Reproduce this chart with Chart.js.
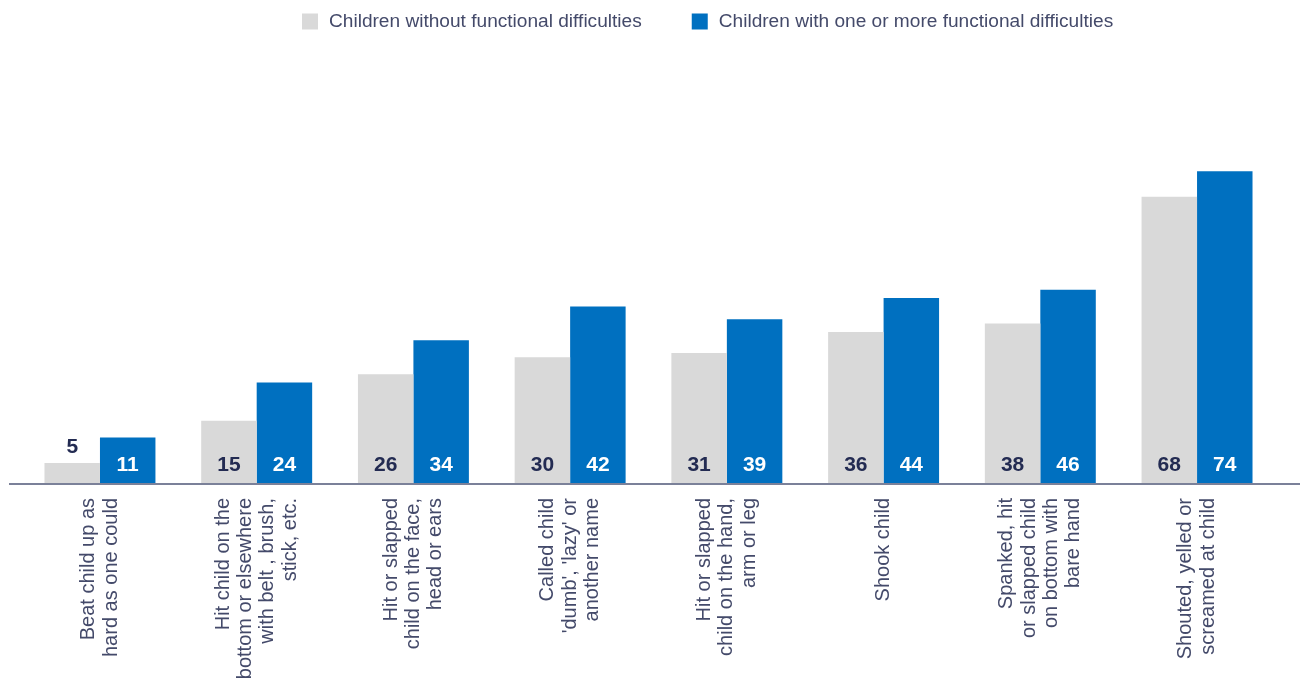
<!DOCTYPE html>
<html>
<head>
<meta charset="utf-8">
<script src="https://cdn.jsdelivr.net/npm/chart.js@4/dist/chart.umd.min.js"></script>
<style>
  html, body { margin: 0; padding: 0; background: #ffffff; }
  #wrap { width: 1300px; height: 691px; position: relative; }
</style>
</head>
<body>
<div id="wrap"><canvas id="c" width="1300" height="691"></canvas></div>
<script>
// ---- Data ----
const categories = [
  ["Beat child up as", "hard as one could"],
  ["Hit child on the", "bottom or elsewhere", "with belt , brush,", "stick, etc."],
  ["Hit or slapped", "child on the face,", "head or ears"],
  ["Called child", "'dumb', 'lazy' or", "another name"],
  ["Hit or slapped", "child on the hand,", "arm or leg"],
  ["Shook child"],
  ["Spanked, hit", "or slapped child", "on bottom with", "bare hand"],
  ["Shouted, yelled or", "screamed at child"]
];
const seriesNames = [
  "Children without functional difficulties",
  "Children with one or more functional difficulties"
];
const withoutDifficulties = [5, 15, 26, 30, 31, 36, 38, 68];
const withDifficulties = [11, 24, 34, 42, 39, 44, 46, 74];

// ---- Styles ----
const FONT = "'Liberation Sans', Arial, Helvetica, sans-serif";
const GREY = "#d9d9d9";
const BLUE = "#0070c0";
const TEXT = "#444a6a";
const NAVY = "#232b52";

const customDraw = {
  id: 'customDraw',
  afterDatasetsDraw(chart) {
    const ctx = chart.ctx;
    const area = chart.chartArea;
    const xs = chart.scales.x;

    // baseline axis line
    ctx.save();
    ctx.strokeStyle = "#7b8199";
    ctx.lineWidth = 2;
    ctx.beginPath();
    ctx.moveTo(9, area.bottom);
    ctx.lineTo(chart.width, area.bottom);
    ctx.stroke();
    ctx.restore();

    // value labels
    chart.data.datasets.forEach((ds, di) => {
      const meta = chart.getDatasetMeta(di);
      meta.data.forEach((bar, i) => {
        const v = ds.data[i];
        const h = bar.base - bar.y;
        let y, color;
        if (h < 30) { y = bar.y - 16; color = NAVY; }
        else { y = bar.base - 19; color = di === 0 ? NAVY : "#ffffff"; }
        ctx.save();
        ctx.font = "bold 21px " + FONT;
        ctx.fillStyle = color;
        ctx.textAlign = "center";
        ctx.textBaseline = "middle";
        ctx.fillText(String(v), bar.x, y);
        ctx.restore();
      });
    });

    // rotated category labels
    const lh = 22.4;
    chart.data.labels.forEach((lab, i) => {
      const cx = xs.getPixelForValue(i);
      const lines = Array.isArray(lab) ? lab : [lab];
      const n = lines.length;
      lines.forEach((ln, k) => {
        const x = cx + (k - (n - 1) / 2) * lh;
        ctx.save();
        ctx.translate(x, area.bottom + 14);
        ctx.rotate(-Math.PI / 2);
        ctx.font = "20px " + FONT;
        ctx.fillStyle = TEXT;
        ctx.textAlign = "right";
        ctx.textBaseline = "middle";
        ctx.fillText(ln, 0, 0);
        ctx.restore();
      });
    });

    // legend
    let lx = 302;
    const ly = 21.5;
    ctx.save();
    ctx.font = "19.1px " + FONT;
    ctx.textBaseline = "middle";
    ctx.textAlign = "left";
    chart.data.datasets.forEach((ds) => {
      ctx.fillStyle = ds.backgroundColor;
      ctx.fillRect(lx, ly - 8, 16, 16);
      ctx.fillStyle = TEXT;
      ctx.fillText(ds.label, lx + 27, ly);
      lx += 27 + ctx.measureText(ds.label).width + 50;
    });
    ctx.restore();
  }
};

new Chart(document.getElementById('c'), {
  type: 'bar',
  data: {
    labels: categories,
    datasets: [
      { label: seriesNames[0], data: withoutDifficulties, backgroundColor: GREY },
      { label: seriesNames[1], data: withDifficulties, backgroundColor: BLUE }
    ]
  },
  options: {
    responsive: false,
    animation: false,
    devicePixelRatio: 1,
    layout: { padding: { left: 21.6, right: 24.6, top: 61.5, bottom: 207 } },
    datasets: { bar: { categoryPercentage: 0.708, barPercentage: 1, borderWidth: 0 } },
    scales: {
      x: { display: false, grid: { display: false } },
      y: { display: false, min: 0, max: 100, grid: { display: false } }
    },
    plugins: {
      legend: { display: false },
      tooltip: { enabled: false }
    }
  },
  plugins: [customDraw]
});
</script>
</body>
</html>
